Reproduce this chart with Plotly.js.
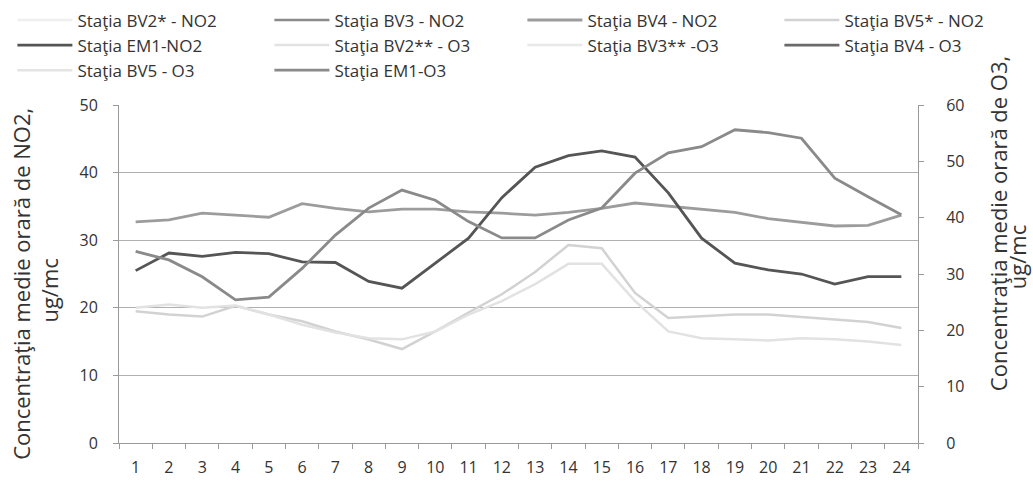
<!DOCTYPE html>
<html>
<head>
<meta charset="utf-8">
<script src="https://cdn.plot.ly/plotly-3.0.1.min.js"></script>
<style>html,body{margin:0;padding:0;background:#fff;}#chart{width:1033px;height:490px;}</style>
</head>
<body>
<div id="chart"></div>
<script>
const hours = ['1','2','3','4','5','6','7','8','9','10','11','12','13','14','15','16','17','18','19','20','21','22','23','24'];

// NO2 series (left axis, ug/mc)
const bv2NO2 = [];
const bv3NO2 = [];
const bv4NO2 = [32.7,33.0,34.0,33.7,33.4,35.4,34.7,34.2,34.6,34.6,34.2,34.0,33.7,34.1,34.7,35.5,35.0,34.5,34.1,33.2,32.6,32.1,32.2,33.7];
const bv5NO2 = [19.5,19.0,18.7,20.3,19.0,18.0,16.5,15.3,13.9,16.5,19.3,22.0,25.3,29.3,28.8,22.2,18.5,18.7,19.0,19.0,18.6,18.2,17.9,17.0];
const em1NO2 = [25.5,28.1,27.6,28.2,28.0,26.8,26.7,23.9,22.9,26.6,30.3,36.3,40.8,42.5,43.2,42.3,37.0,30.3,26.6,25.6,25.0,23.5,24.6,24.6];

// O3 series (right axis, ug/mc)
const bv2O3 = [24.0,24.6,24.0,24.4,22.8,21.0,19.6,18.6,18.4,19.8,22.8,25.2,28.2,31.8,31.8,25.2,19.8,18.6,18.4,18.2,18.6,18.4,18.0,17.4];
const bv3O3 = [];
const bv4O3 = [];
const bv5O3 = [];
const em1O3 = [34.0,32.5,29.5,25.4,25.9,31.0,36.9,41.7,44.9,43.1,39.3,36.4,36.4,39.6,41.7,47.9,51.5,52.6,55.6,55.1,54.1,47.0,43.7,40.5];

const names = ['Staţia BV2* - NO2','Staţia BV3 - NO2','Staţia BV4 - NO2','Staţia BV5* - NO2','Staţia EM1-NO2',
               'Staţia BV2** - O3','Staţia BV3** -O3','Staţia BV4 - O3','Staţia BV5 - O3','Staţia EM1-O3'];
const series = [bv2NO2,bv3NO2,bv4NO2,bv5NO2,em1NO2,bv2O3,bv3O3,bv4O3,bv5O3,em1O3];
const axes   = ['y','y','y','y','y','y2','y2','y2','y2','y2'];
const colors = ['#efefef','#8a8a8a','#9c9c9c','#d2d2d2','#555555','#e2e2e2','#e8e8e8','#6a6a6a','#e4e4e4','#8a8a8a'];
const widths = [2.5,2.5,2.8,2.5,2.8,2.5,2.5,2.8,2.5,2.8];
// legend column of each series (4 columns, filled row by row)
const legendCols = ['legend','legend2','legend3','legend4','legend','legend2','legend3','legend4','legend','legend2'];

const traces = series.map((vals,i)=>({
  type:'scatter', mode:'lines', name:names[i],
  x: hours.slice(0, Math.max(vals.length,1)),
  y: vals.length ? vals : [null],
  yaxis: axes[i],
  legend: legendCols[i],
  line:{color:colors[i], width:widths[i]},
  hoverinfo:'skip',
  legendrank: i+1
}));
// draw darker lines on top
const order = [0,6,8,5,3,1,2,9,7,4];
const data = order.map(i=>traces[i]);

const fontFam = '"Open Sans", "DejaVu Sans", sans-serif';
function legendAt(x){
  return {
    orientation:'v', xref:'container', yref:'container',
    x:x, y:0.995, xanchor:'left', yanchor:'top',
    itemwidth:55, tracegroupgap:0,
    font:{family:fontFam, size:17, color:'#333333'},
    traceorder:'normal', bgcolor:'rgba(0,0,0,0)'
  };
}
const layout = {
  width:1033, height:490,
  margin:{l:119, r:115, t:105, b:47, autoexpand:false},
  paper_bgcolor:'#ffffff', plot_bgcolor:'#ffffff',
  font:{family:fontFam, color:'#333333', size:16},
  showlegend:true,
  legend: legendAt(0.012),
  legend2: legendAt(0.2608),
  legend3: legendAt(0.5057),
  legend4: legendAt(0.7545),
  xaxis:{
    type:'category', tickson:'boundaries', ticks:'outside', ticklen:5, tickcolor:'#9a9a9a',
    showline:true, linecolor:'#9a9a9a', linewidth:1,
    showgrid:false, zeroline:false,
    tickfont:{size:16, color:'#333333'}, ticklabelstandoff:10,
    range:[-0.5,23.5]
  },
  yaxis:{
    range:[0,50], dtick:10, ticks:'outside', ticklen:5, tickcolor:'#9a9a9a',
    showline:true, linecolor:'#9a9a9a', linewidth:1,
    showgrid:true, gridcolor:'#b0b0b0', gridwidth:1, zeroline:false,
    tickfont:{size:16, color:'#333333'}, ticklabelstandoff:12
  },
  yaxis2:{
    overlaying:'y', side:'right', range:[0,60], dtick:10,
    ticks:'outside', ticklen:5, tickcolor:'#9a9a9a',
    showline:true, linecolor:'#9a9a9a', linewidth:1,
    showgrid:false, zeroline:false,
    tickfont:{size:16, color:'#333333'}, ticklabelstandoff:19
  },
  annotations:[
    {xref:'paper', yref:'paper', x:-0.123, y:0.47, text:'Concentraţia medie orară de NO2,', textangle:-90,
     showarrow:false, font:{size:22, color:'#333333', family:fontFam}, xanchor:'center', yanchor:'middle'},
    {xref:'paper', yref:'paper', x:-0.088, y:0.45, text:'ug/mc', textangle:-90,
     showarrow:false, font:{size:22, color:'#333333', family:fontFam}, xanchor:'center', yanchor:'middle'},
    {xref:'paper', yref:'paper', x:1.1, y:0.65, text:'Concentraţia medie orară de O3,', textangle:-90,
     showarrow:false, font:{size:22, color:'#333333', family:fontFam}, xanchor:'center', yanchor:'middle'},
    {xref:'paper', yref:'paper', x:1.124, y:0.55, text:'ug/mc', textangle:-90,
     showarrow:false, font:{size:22, color:'#333333', family:fontFam}, xanchor:'center', yanchor:'middle'}
  ]
};

Plotly.newPlot('chart', data, layout, {displayModeBar:false, staticPlot:true});
</script>
</body>
</html>
